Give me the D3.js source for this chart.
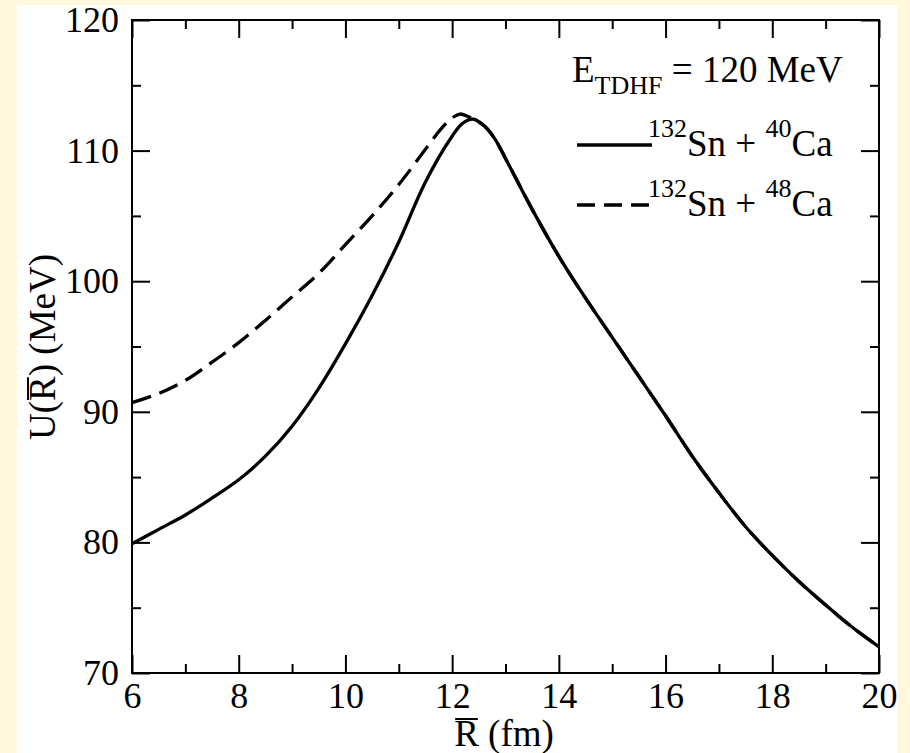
<!DOCTYPE html>
<html>
<head>
<meta charset="utf-8">
<script src="https://cdn.jsdelivr.net/npm/d3@7"></script>
<style>
  body { margin: 0; background: #fff8dc; }
  svg text { font-family: "Liberation Serif", "Times New Roman", serif; fill: #000; }
</style>
</head>
<body>
<div id="chart"></div>
<script>
// U(R) for 132Sn + 40Ca, E_TDHF = 120 MeV
var rSn40 = [6, 6.5, 7, 7.5, 8, 8.5, 9, 9.5, 10, 10.5, 11, 11.5, 12, 12.2, 12.4, 12.6, 12.8, 13, 13.5, 14, 14.5, 15, 15.5, 16, 16.5, 17, 17.5, 18, 18.5, 19, 19.5, 20];
var uSn40 = [79.9, 81.0, 82.1, 83.4, 84.8, 86.6, 88.9, 91.8, 95.2, 98.9, 103.0, 107.6, 111.1, 112.1, 112.4, 111.9, 110.9, 109.4, 105.5, 101.9, 98.7, 95.7, 92.7, 89.7, 86.6, 83.8, 81.2, 79.0, 77.0, 75.2, 73.5, 72.0];

// U(R) for 132Sn + 48Ca
var rSn48 = [6, 6.5, 7, 7.5, 8, 8.5, 9, 9.5, 10, 10.5, 11, 11.5, 11.8, 12, 12.15, 12.3, 12.4, 12.6, 12.8, 13, 13.5, 14, 14.5, 15, 15.5, 16, 16.5, 17, 17.5, 18, 18.5, 19, 19.5, 20];
var uSn48 = [90.7, 91.4, 92.4, 93.8, 95.3, 97.0, 98.8, 100.6, 102.8, 105.0, 107.4, 110.1, 111.7, 112.5, 112.8, 112.6, 112.4, 111.9, 110.9, 109.4, 105.5, 101.9, 98.7, 95.7, 92.7, 89.7, 86.6, 83.8, 81.2, 79.0, 77.0, 75.2, 73.5, 72.0];

var xMajor = [6, 8, 10, 12, 14, 16, 18, 20];
var xMinor = [7, 9, 11, 13, 15, 17, 19];
var yMajor = [70, 80, 90, 100, 110, 120];
var yMinor = [75, 85, 95, 105, 115];

var W = 910, H = 753;
var margin = {top: 20, right: 31, bottom: 80, left: 132};
var width = W - margin.left - margin.right,
    height = H - margin.top - margin.bottom;

var svg = d3.select('#chart').append('svg')
  .attr('width', W)
  .attr('height', H);

svg.append('rect').attr('width', W).attr('height', H).attr('fill', '#fff8dc');
svg.append('rect').attr('x', 17).attr('y', 5).attr('width', 881).attr('height', H - 5).attr('fill', '#fff');

var g = svg.append('g')
  .attr('transform', 'translate(' + margin.left + ',' + margin.top + ')');

var x = d3.scaleLinear().domain([6, 20]).range([0, width]);
var y = d3.scaleLinear().domain([70, 120]).range([height, 0]);

function tickAxis(axis, vals, size, labels) {
  axis.tickValues(vals).tickSize(size);
  if (!labels) axis.tickFormat('');
  return axis;
}

// bottom
g.append('g').attr('transform', 'translate(0,' + height + ')')
  .call(tickAxis(d3.axisBottom(x), xMajor, -18, true).tickPadding(9));
g.append('g').attr('transform', 'translate(0,' + height + ')')
  .call(tickAxis(d3.axisBottom(x), xMinor, -9, false));
// top
g.append('g').call(tickAxis(d3.axisTop(x), xMajor, -18, false));
g.append('g').call(tickAxis(d3.axisTop(x), xMinor, -9, false));
// left
g.append('g').call(tickAxis(d3.axisLeft(y), yMajor, -18, true).tickPadding(13));
g.append('g').call(tickAxis(d3.axisLeft(y), yMinor, -9, false));
// right
g.append('g').attr('transform', 'translate(' + width + ',0)')
  .call(tickAxis(d3.axisRight(y), yMajor, -18, false));
g.append('g').attr('transform', 'translate(' + width + ',0)')
  .call(tickAxis(d3.axisRight(y), yMinor, -9, false));

g.selectAll('.domain').remove();
g.selectAll('.tick line').attr('stroke', '#000').attr('stroke-width', 2);
g.selectAll('.tick text').style('font-size', '36px').attr('fill', '#000');

g.append('rect')
  .attr('width', width).attr('height', height)
  .attr('fill', 'none').attr('stroke', '#000').attr('stroke-width', 2);

var line = d3.line()
  .x(function(d) { return x(d[0]); })
  .y(function(d) { return y(d[1]); })
  .curve(d3.curveCatmullRom);

g.append('path')
  .datum(d3.zip(rSn48, uSn48))
  .attr('d', line)
  .attr('fill', 'none').attr('stroke', '#000').attr('stroke-width', 3.3)
  .attr('stroke-dasharray', '20,9');

g.append('path')
  .datum(d3.zip(rSn40, uSn40))
  .attr('d', line)
  .attr('fill', 'none').attr('stroke', '#000').attr('stroke-width', 3.3);

// axis labels
var xl = svg.append('text')
  .attr('x', 504).attr('y', 746)
  .attr('text-anchor', 'middle')
  .style('font-size', '37px')
  .text('R (fm)');
var rb = xl.node().getExtentOfChar(0);
svg.append('line')
  .attr('x1', rb.x + 1).attr('x2', rb.x + rb.width - 1)
  .attr('y1', 719).attr('y2', 719)
  .attr('stroke', '#000').attr('stroke-width', 2);

var yg = svg.append('g').attr('transform', 'translate(55,347) rotate(-90)');
var yl = yg.append('text')
  .attr('x', 0).attr('y', 0)
  .attr('text-anchor', 'middle')
  .style('font-size', '37px')
  .text('U(R) (MeV)');
var ub = yl.node().getExtentOfChar(2);
yg.append('line')
  .attr('x1', ub.x + 1).attr('x2', ub.x + ub.width - 1)
  .attr('y1', -27).attr('y2', -27)
  .attr('stroke', '#000').attr('stroke-width', 2);

// legend
var leg = svg.append('g');
var t0 = leg.append('text').attr('x', 572).attr('y', 82).style('font-size', '37px');
t0.append('tspan').text('E');
t0.append('tspan').attr('dy', 12).style('font-size', '26px').text('TDHF');
t0.append('tspan').attr('dy', -12).text(' = 120 MeV');

var legItems = [
  {dash: null, a: '132', b: 'Sn + ', c: '40', d: 'Ca', y: 145},
  {dash: '18,9', a: '132', b: 'Sn + ', c: '48', d: 'Ca', y: 205}
];
legItems.forEach(function(it) {
  leg.append('line')
    .attr('x1', 577).attr('x2', 652)
    .attr('y1', it.y).attr('y2', it.y)
    .attr('stroke', '#000').attr('stroke-width', 3.3)
    .attr('stroke-dasharray', it.dash);
  var t = leg.append('text').attr('x', 648).attr('y', it.y + 11).style('font-size', '37px');
  t.append('tspan').attr('dy', -19).style('font-size', '26px').text(it.a);
  t.append('tspan').attr('dy', 19).text(it.b);
  t.append('tspan').attr('dy', -19).style('font-size', '26px').text(it.c);
  t.append('tspan').attr('dy', 19).text(it.d);
});
</script>
</body>
</html>
